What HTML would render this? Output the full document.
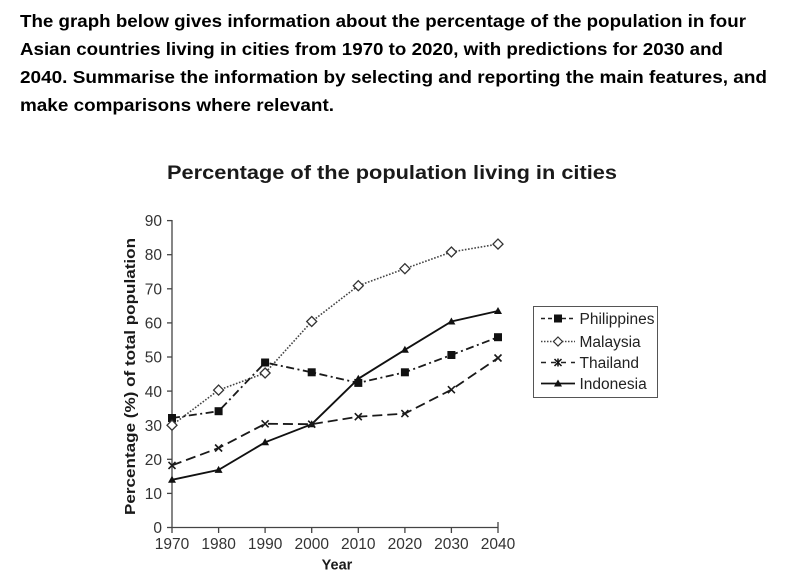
<!DOCTYPE html>
<html>
<head>
<meta charset="utf-8">
<style>
  html, body { margin: 0; padding: 0; background: #fff; }
  body { width: 800px; height: 581px; overflow: hidden; }
  svg { display: block; }
  .hdr { font-family: "Liberation Sans", "DejaVu Sans", sans-serif; font-weight: bold; font-size: 17.5px; fill: #000; }
  .ttl { font-family: "Liberation Sans", sans-serif; font-weight: bold; font-size: 19px; fill: #1a1a1a; }
  .tick { font-family: "Liberation Sans", sans-serif; font-size: 15.5px; fill: #333; }
  .axl { font-family: "Liberation Sans", sans-serif; font-weight: bold; font-size: 14.5px; fill: #1a1a1a; }
  .leg { font-family: "Liberation Sans", sans-serif; font-size: 15.5px; fill: #222; }
</style>
</head>
<body>
<svg width="800" height="581" viewBox="0 0 800 581" xmlns="http://www.w3.org/2000/svg">
  <rect width="800" height="581" fill="#fff"/>

  <!-- Header text -->
  <text class="hdr" x="20" y="27" textLength="726" lengthAdjust="spacingAndGlyphs">The graph below gives information about the percentage of the population in four</text>
  <text class="hdr" x="20" y="55" textLength="703" lengthAdjust="spacingAndGlyphs">Asian countries living in cities from 1970 to 2020, with predictions for 2030 and</text>
  <text class="hdr" x="20" y="83" textLength="747" lengthAdjust="spacingAndGlyphs">2040. Summarise the information by selecting and reporting the main features, and</text>
  <text class="hdr" x="20" y="111" textLength="314" lengthAdjust="spacingAndGlyphs">make comparisons where relevant.</text>

  <!-- Chart title -->
  <text class="ttl" x="167" y="179" textLength="450" lengthAdjust="spacingAndGlyphs">Percentage of the population living in cities</text>

  <!-- Axes -->
  <g stroke="#444" stroke-width="1.3" fill="none">
    <line x1="172" y1="220" x2="172" y2="527.5"/>
    <line x1="172" y1="527.5" x2="498" y2="527.5"/>
    <!-- y ticks -->
    <line x1="167" y1="527.5" x2="172" y2="527.5"/>
    <line x1="167" y1="493.4" x2="172" y2="493.4"/>
    <line x1="167" y1="459.3" x2="172" y2="459.3"/>
    <line x1="167" y1="425.2" x2="172" y2="425.2"/>
    <line x1="167" y1="391.1" x2="172" y2="391.1"/>
    <line x1="167" y1="357.0" x2="172" y2="357.0"/>
    <line x1="167" y1="322.9" x2="172" y2="322.9"/>
    <line x1="167" y1="288.8" x2="172" y2="288.8"/>
    <line x1="167" y1="254.7" x2="172" y2="254.7"/>
    <line x1="167" y1="220.6" x2="172" y2="220.6"/>
    <!-- x ticks -->
    <line x1="172" y1="527.5" x2="172" y2="533"/>
    <line x1="218.6" y1="527.5" x2="218.6" y2="533"/>
    <line x1="265.1" y1="527.5" x2="265.1" y2="533"/>
    <line x1="311.7" y1="527.5" x2="311.7" y2="533"/>
    <line x1="358.3" y1="527.5" x2="358.3" y2="533"/>
    <line x1="404.9" y1="527.5" x2="404.9" y2="533"/>
    <line x1="451.4" y1="527.5" x2="451.4" y2="533"/>
    <line x1="498" y1="522" x2="498" y2="533"/>
  </g>

  <!-- y tick labels -->
  <g class="tick" text-anchor="end">
    <text x="162" y="533">0</text>
    <text x="162" y="499">10</text>
    <text x="162" y="465">20</text>
    <text x="162" y="431">30</text>
    <text x="162" y="397">40</text>
    <text x="162" y="362.5">50</text>
    <text x="162" y="328.5">60</text>
    <text x="162" y="294.5">70</text>
    <text x="162" y="260">80</text>
    <text x="162" y="226">90</text>
  </g>
  <!-- x tick labels -->
  <g class="tick" text-anchor="middle">
    <text x="172" y="549">1970</text>
    <text x="218.6" y="549">1980</text>
    <text x="265.1" y="549">1990</text>
    <text x="311.7" y="549">2000</text>
    <text x="358.3" y="549">2010</text>
    <text x="404.9" y="549">2020</text>
    <text x="451.4" y="549">2030</text>
    <text x="498" y="549">2040</text>
  </g>

  <!-- Axis labels -->
  <text class="axl" x="337" y="569.5" text-anchor="middle" font-size="15px">Year</text>
  <text class="axl" transform="translate(135,376.5) rotate(-90)" text-anchor="middle" textLength="277" lengthAdjust="spacingAndGlyphs">Percentage (%) of total population</text>

  <!-- Malaysia (dotted, open diamonds) -->
  <polyline fill="none" stroke="#444" stroke-width="1.6" stroke-dasharray="1.6 1.6"
    points="172,425.2 218.6,390.1 265.1,373.0 311.7,321.5 358.3,285.7 404.9,268.7 451.4,252.0 498,244.1"/>

  <!-- Thailand (dashed, x) -->
  <polyline fill="none" stroke="#1a1a1a" stroke-width="1.8" stroke-dasharray="10 5"
    points="172,465.4 218.6,448.0 265.1,423.8 311.7,424.2 358.3,416.7 404.9,413.6 451.4,389.7 498,358.0"/>

  <!-- Philippines (dash-dot, squares) -->
  <polyline fill="none" stroke="#1a1a1a" stroke-width="1.8" stroke-dasharray="8 3.5 2 3.5"
    points="172,418.0 218.6,411.2 265.1,362.5 311.7,372.3 358.3,382.9 404.9,372.3 451.4,355.0 498,337.2"/>

  <!-- Indonesia (solid, triangles) -->
  <polyline fill="none" stroke="#111" stroke-width="1.9"
    points="172,479.8 218.6,469.9 265.1,442.3 311.7,424.2 358.3,378.8 404.9,349.8 451.4,321.5 498,311.0"/>

  <!-- Indonesia markers -->
  <g fill="#111">
    <polygon points="172,475.8 176,482.8 168,482.8"/>
    <polygon points="218.6,465.9 222.6,472.9 214.6,472.9"/>
    <polygon points="265.1,438.3 269.1,445.3 261.1,445.3"/>
    <polygon points="311.7,420.2 315.7,427.2 307.7,427.2"/>
    <polygon points="358.3,374.8 362.3,381.8 354.3,381.8"/>
    <polygon points="404.9,345.8 408.9,352.8 400.9,352.8"/>
    <polygon points="451.4,317.5 455.4,324.5 447.4,324.5"/>
    <polygon points="498,307.0 502,314.0 494,314.0"/>
  </g>

  <!-- Thailand markers -->
  <g stroke="#1a1a1a" stroke-width="1.6" fill="none">
    <path d="M168.5,461.9 L175.5,468.9 M175.5,461.9 L168.5,468.9"/>
    <path d="M215.1,444.5 L222.1,451.5 M222.1,444.5 L215.1,451.5"/>
    <path d="M261.6,420.3 L268.6,427.3 M268.6,420.3 L261.6,427.3"/>
    <path d="M308.2,420.7 L315.2,427.7 M315.2,420.7 L308.2,427.7"/>
    <path d="M354.8,413.2 L361.8,420.2 M361.8,413.2 L354.8,420.2"/>
    <path d="M401.4,410.1 L408.4,417.1 M408.4,410.1 L401.4,417.1"/>
    <path d="M447.9,386.2 L454.9,393.2 M454.9,386.2 L447.9,393.2"/>
    <path d="M494.5,354.5 L501.5,361.5 M501.5,354.5 L494.5,361.5"/>
  </g>

  <!-- Philippines markers -->
  <g fill="#111">
    <rect x="168" y="414" width="8" height="8"/>
    <rect x="214.6" y="407.2" width="8" height="8"/>
    <rect x="261.1" y="358.5" width="8" height="8"/>
    <rect x="307.7" y="368.3" width="8" height="8"/>
    <rect x="354.3" y="378.9" width="8" height="8"/>
    <rect x="400.9" y="368.3" width="8" height="8"/>
    <rect x="447.4" y="351.0" width="8" height="8"/>
    <rect x="494" y="333.2" width="8" height="8"/>
  </g>

  <!-- Malaysia markers -->
  <g fill="#fff" stroke="#333" stroke-width="1.3">
    <polygon points="172,420.2 177,425.2 172,430.2 167,425.2"/>
    <polygon points="218.6,385.1 223.6,390.1 218.6,395.1 213.6,390.1"/>
    <polygon points="265.1,368.0 270.1,373.0 265.1,378.0 260.1,373.0"/>
    <polygon points="311.7,316.5 316.7,321.5 311.7,326.5 306.7,321.5"/>
    <polygon points="358.3,280.7 363.3,285.7 358.3,290.7 353.3,285.7"/>
    <polygon points="404.9,263.7 409.9,268.7 404.9,273.7 399.9,268.7"/>
    <polygon points="451.4,247.0 456.4,252.0 451.4,257.0 446.4,252.0"/>
    <polygon points="498,239.1 503,244.1 498,249.1 493,244.1"/>
  </g>

  <!-- Legend -->
  <rect x="533.5" y="306.5" width="124" height="91" fill="#fff" stroke="#555" stroke-width="1"/>
  <!-- Philippines -->
  <line x1="541" y1="318.5" x2="575" y2="318.5" stroke="#222" stroke-width="1.6" stroke-dasharray="4 3"/>
  <rect x="554" y="314.5" width="8" height="8" fill="#111"/>
  <text class="leg" x="579.5" y="324">Philippines</text>
  <!-- Malaysia -->
  <line x1="541" y1="341.5" x2="575" y2="341.5" stroke="#444" stroke-width="1.4" stroke-dasharray="1.5 1.5"/>
  <polygon points="558,337 562.5,341.5 558,346 553.5,341.5" fill="#fff" stroke="#333" stroke-width="1.2"/>
  <text class="leg" x="579.5" y="347">Malaysia</text>
  <!-- Thailand -->
  <line x1="541" y1="362.5" x2="575" y2="362.5" stroke="#222" stroke-width="1.6" stroke-dasharray="5 5"/>
  <path d="M554.5,359 L561.5,366 M561.5,359 L554.5,366 M558,358.5 L558,366.5" stroke="#111" stroke-width="1.5" fill="none"/>
  <text class="leg" x="579.5" y="368">Thailand</text>
  <!-- Indonesia -->
  <line x1="541" y1="383.5" x2="575" y2="383.5" stroke="#111" stroke-width="1.8"/>
  <polygon points="558,379.5 562,386.5 554,386.5" fill="#111"/>
  <text class="leg" x="579.5" y="389">Indonesia</text>
</svg>
</body>
</html>
